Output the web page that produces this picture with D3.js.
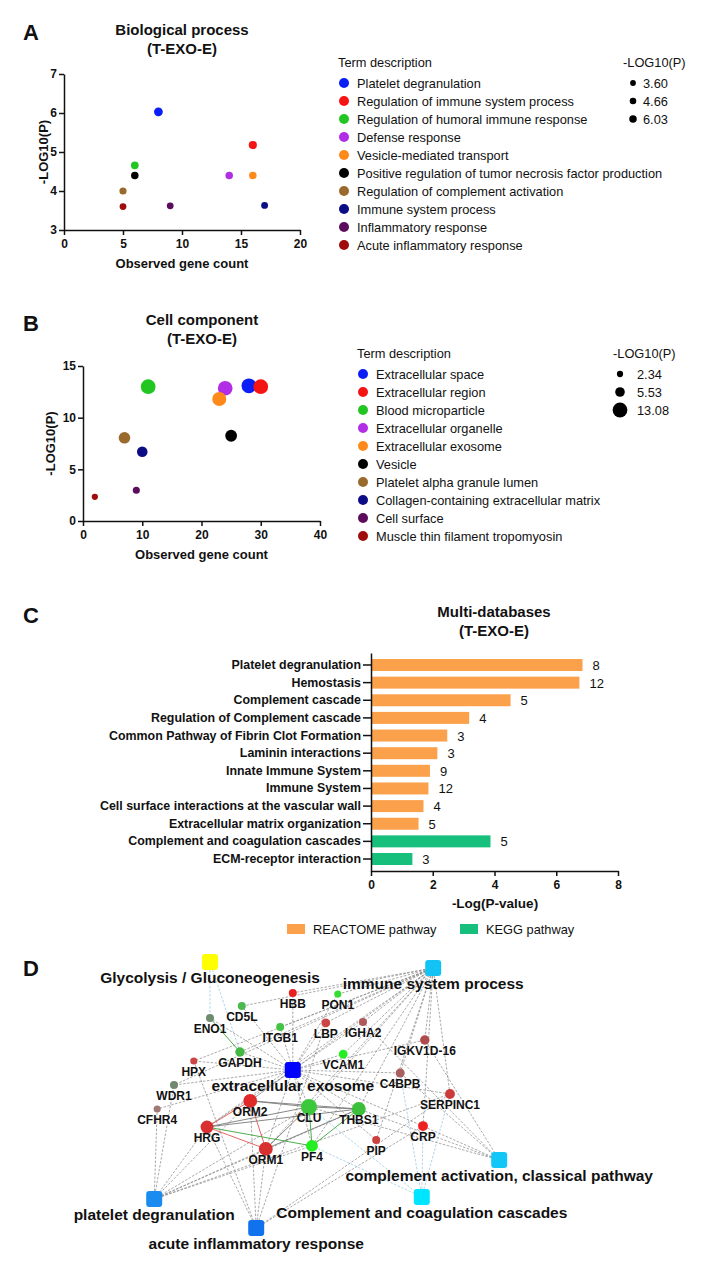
<!DOCTYPE html>
<html>
<head>
<meta charset="utf-8">
<script src="https://cdn.jsdelivr.net/npm/d3@7"></script>
<style>
  body { margin: 0; background: #fff; }
  svg text { font-family: "Liberation Sans", Arial, sans-serif; fill: #111; }
</style>
</head>
<body>
<svg id="fig" width="715" height="1270"></svg>
<script>
// ---------- Panel A: biological process ----------
const bpTerms = ["Platelet degranulation", "Regulation of immune system process", "Regulation of humoral immune response",
  "Defense response", "Vesicle-mediated transport", "Positive regulation of tumor necrosis factor production",
  "Regulation of complement activation", "Immune system process", "Inflammatory response", "Acute inflammatory response"];
const bpCount = [8, 16, 6, 14, 16, 6, 5, 17, 9, 5];
const bpLogP = [6.03, 5.18, 4.66, 4.4, 4.4, 4.4, 4.0, 3.63, 3.62, 3.6];
const bpSizeTicks = [3.60, 4.66, 6.03];

// ---------- Panel B: cell component ----------
const ccTerms = ["Extracellular space", "Extracellular region", "Blood microparticle", "Extracellular organelle",
  "Extracellular exosome", "Vesicle", "Platelet alpha granule lumen", "Collagen-containing extracellular matrix",
  "Cell surface", "Muscle thin filament tropomyosin"];
const ccCount = [28, 30, 11, 24, 23, 25, 7, 10, 9, 2];
const ccLogP = [13.08, 13.0, 13.0, 12.85, 11.8, 8.25, 8.05, 6.7, 2.97, 2.34];
const ccSizeTicks = [2.34, 5.53, 13.08];

// ---------- Panel C: multi-databases ----------
const pathTerms = ["Platelet degranulation", "Hemostasis", "Complement cascade", "Regulation of Complement cascade",
  "Common Pathway of Fibrin Clot Formation", "Laminin interactions", "Innate Immune System", "Immune System",
  "Cell surface interactions at the vascular wall", "Extracellular matrix organization",
  "Complement and coagulation cascades", "ECM-receptor interaction"];
const pathLogP = [6.85, 6.75, 4.52, 3.18, 2.47, 2.15, 1.91, 1.86, 1.70, 1.54, 3.87, 1.34];
const pathGenes = [8, 12, 5, 4, 3, 3, 9, 12, 4, 5, 5, 3];
const pathSource = ["REACTOME pathway", "REACTOME pathway", "REACTOME pathway", "REACTOME pathway", "REACTOME pathway",
  "REACTOME pathway", "REACTOME pathway", "REACTOME pathway", "REACTOME pathway", "REACTOME pathway",
  "KEGG pathway", "KEGG pathway"];
const sourceNames = ["REACTOME pathway", "KEGG pathway"];

// ---------- Panel D: network ----------
const termNames = ["Glycolysis / Gluconeogenesis", "immune system process", "extracellular exosome",
  "platelet degranulation", "acute inflammatory response", "Complement and coagulation cascades",
  "complement activation, classical pathway"];
const geneNames = ["HBB", "PON1", "CD5L", "ENO1", "ITGB1", "LBP", "IGHA2", "IGKV1D-16", "GAPDH", "VCAM1", "HPX",
  "C4BPB", "WDR1", "SERPINC1", "ORM2", "CLU", "THBS1", "CFHR4", "HRG", "CRP", "PIP", "ORM1", "PF4"];
const geneDegree = [2.5, 2, 2.5, 2.5, 2.5, 3, 2.5, 3.5, 3.5, 3, 2, 3.2, 2.5, 3.8, 7.5, 10, 7.5, 2, 6.5, 3.8, 2.5, 7.5, 5.5];
const termGenes = [
  ["ENO1", "GAPDH"],
  ["HBB", "PON1", "CD5L", "ITGB1", "LBP", "IGHA2", "IGKV1D-16", "VCAM1", "GAPDH", "HPX", "C4BPB", "SERPINC1", "CRP",
   "ORM2", "ORM1", "HRG", "CLU", "PF4", "THBS1", "PIP", "WDR1"],
  ["HBB", "PON1", "CD5L", "ENO1", "ITGB1", "LBP", "IGHA2", "GAPDH", "VCAM1", "HPX", "C4BPB", "WDR1", "ORM2", "CLU",
   "THBS1", "CFHR4", "HRG", "ORM1", "PF4", "PIP", "CRP", "SERPINC1", "IGKV1D-16"],
  ["WDR1", "CFHR4", "HRG", "ORM2", "ORM1", "CLU", "THBS1", "PF4", "SERPINC1"],
  ["HPX", "ORM1", "ORM2", "HRG", "CRP", "SERPINC1", "LBP"],
  ["SERPINC1", "C4BPB", "CLU", "PF4", "CRP"],
  ["IGHA2", "IGKV1D-16", "C4BPB", "CRP", "CLU", "THBS1"]
];
const ppiLinks = [["ENO1", "GAPDH"], ["ORM2", "HRG"], ["HRG", "ORM1"], ["ORM2", "ORM1"], ["CLU", "PF4"],
  ["THBS1", "PF4"], ["CLU", "THBS1"], ["ORM2", "CLU"], ["ORM2", "THBS1"], ["HRG", "CLU"], ["HRG", "THBS1"],
  ["ORM1", "CLU"], ["ORM1", "THBS1"], ["HRG", "PF4"]];

// layout (normalised 0..1, mapped through scales below)
const netLayout = {
  "Glycolysis / Gluconeogenesis": [0.25, 0.04], "immune system process": [0.622, 0.06],
  "extracellular exosome": [0.388, 0.40], "platelet degranulation": [0.157, 0.83],
  "acute inflammatory response": [0.327, 0.927], "Complement and coagulation cascades": [0.603, 0.823],
  "complement activation, classical pathway": [0.732, 0.70],
  HBB: [0.388, 0.143], PON1: [0.463, 0.147], CD5L: [0.303, 0.187], ENO1: [0.25, 0.227], ITGB1: [0.367, 0.257],
  LBP: [0.443, 0.243], IGHA2: [0.505, 0.24], "IGKV1D-16": [0.608, 0.30], GAPDH: [0.30, 0.34], VCAM1: [0.472, 0.347],
  HPX: [0.223, 0.37], C4BPB: [0.567, 0.41], WDR1: [0.19, 0.45], SERPINC1: [0.65, 0.48], ORM2: [0.317, 0.503],
  CLU: [0.415, 0.523], THBS1: [0.498, 0.53], CFHR4: [0.162, 0.53], HRG: [0.245, 0.59], CRP: [0.605, 0.587],
  PIP: [0.527, 0.633], ORM1: [0.343, 0.663], PF4: [0.42, 0.653]
};

// colours
const termColors = ["#0a1ef5", "#f51414", "#22c622", "#b12ee6", "#ff8a1c", "#000000", "#9a6a2c", "#0c0c84", "#5c0c5c", "#a00c0c"];
const sourceColors = {"REACTOME pathway": "#fba14c", "KEGG pathway": "#16bf7c"};
const netTermColors = {"Glycolysis / Gluconeogenesis": "#ffff00", "immune system process": "#14c3f5",
  "extracellular exosome": "#0000ff", "platelet degranulation": "#1a8cf0", "acute inflammatory response": "#1172ee",
  "Complement and coagulation cascades": "#00e5ff", "complement activation, classical pathway": "#12c6f5"};
const geneColors = {HBB: "#e82020", PON1: "#33dd33", CD5L: "#4db84d", ENO1: "#6e8b6e", ITGB1: "#44c444",
  LBP: "#cc4444", IGHA2: "#b05a5a", "IGKV1D-16": "#b04b4b", GAPDH: "#44b844", VCAM1: "#22ee22", HPX: "#cc4444",
  C4BPB: "#a86060", WDR1: "#708870", SERPINC1: "#cc3a3a", ORM2: "#e02a2a", CLU: "#3cc83c", THBS1: "#3cc03c",
  CFHR4: "#a07878", HRG: "#d83030", CRP: "#ee2020", PIP: "#cc4040", ORM1: "#d83030", PF4: "#22ee22"};

const svg = d3.select("#fig");
svg.append("rect").attr("width", 715).attr("height", 1270).attr("fill", "#fff");

function panel_letter(txt, x, y) {
  svg.append("text").attr("x", x).attr("y", y).attr("font-size", 22).attr("font-weight", "bold").text(txt);
}

function style_axis(ax, fontSize) {
  ax.select(".domain").attr("stroke", "#111").attr("stroke-width", 1.5);
  ax.selectAll(".tick line").attr("stroke", "#111").attr("stroke-width", 1.5);
  ax.selectAll(".tick text").attr("font-size", fontSize).attr("font-weight", "bold")
    .attr("font-family", "Liberation Sans, Arial, sans-serif").attr("fill", "#111");
}

function draw_title(lines, x, y) {
  lines.forEach(function (t, i) {
    svg.append("text").attr("x", x).attr("y", y + i * 18.5).attr("text-anchor", "middle")
      .attr("font-size", 15).attr("font-weight", "bold").text(t);
  });
}

function draw_bubble_chart(o) {
  var g = svg.append("g");
  var x = d3.scaleLinear().domain(o.xDomain).range([o.left, o.right]);
  var y = d3.scaleLinear().domain(o.yDomain).range([o.bottom, o.top]);
  var r = d3.scaleSqrt().domain([0, d3.max(o.logp)]).range([0, o.rMax]);

  draw_title([o.title, "(T-EXO-E)"], o.titleX, o.titleY);

  var xa = g.append("g").attr("transform", "translate(0," + o.bottom + ")")
    .call(d3.axisBottom(x).tickValues(o.xTicks).tickFormat(d3.format("d"))
      .tickSize(5).tickSizeOuter(0).tickPadding(4));
  var ya = g.append("g").attr("transform", "translate(" + o.left + ",0)")
    .call(d3.axisLeft(y).tickValues(o.yTicks).tickFormat(d3.format("d"))
      .tickSize(5).tickSizeOuter(0).tickPadding(2));
  style_axis(xa, 12);
  style_axis(ya, 12);

  g.append("text").attr("x", (o.left + o.right) / 2).attr("y", o.bottom + 38).attr("text-anchor", "middle")
    .attr("font-size", 13).attr("font-weight", "bold").text("Observed gene count");
  g.append("text").attr("transform", "translate(" + o.yLabelX + "," + (o.top + o.bottom) / 2 + ") rotate(-90)")
    .attr("text-anchor", "middle").attr("font-size", 13).attr("font-weight", "bold").text("-LOG10(P)");

  g.selectAll("circle.pt").data(d3.range(o.terms.length)).join("circle")
    .attr("class", "pt")
    .attr("cx", function (i) { return x(o.counts[i]); })
    .attr("cy", function (i) { return y(o.logp[i]); })
    .attr("r", function (i) { return r(o.logp[i]); })
    .attr("fill", function (i) { return termColors[i]; });

  // term legend
  g.append("text").attr("x", o.legX).attr("y", o.rowY - 16).attr("font-size", 12.8).text("Term description");
  var rows = g.selectAll("g.row").data(o.terms).join("g").attr("class", "row")
    .attr("transform", function (d, i) { return "translate(" + o.legX + "," + (o.rowY + i * 18) + ")"; });
  rows.append("circle").attr("cx", 6).attr("cy", 0).attr("r", 5)
    .attr("fill", function (d, i) { return termColors[i]; });
  rows.append("text").attr("x", 19).attr("y", 4.5).attr("font-size", 12.8).text(function (d) { return d; });

  // size legend
  g.append("text").attr("x", o.sizeHeadX).attr("y", o.rowY - 16).attr("font-size", 12.8).text("-LOG10(P)");
  var srows = g.selectAll("g.srow").data(o.sizeTicks).join("g").attr("class", "srow")
    .attr("transform", function (d, i) { return "translate(" + o.sizeX + "," + (o.rowY + i * 18) + ")"; });
  srows.append("circle").attr("r", function (d) { return r(d) * o.legScale; }).attr("fill", "#000");
  srows.append("text").attr("x", o.sizeLabelDx).attr("y", 4.5).attr("font-size", 12.8)
    .text(function (d) { return d.toFixed(2); });
}

function draw_bar_chart() {
  var g = svg.append("g");
  var x = d3.scaleLinear().domain([0, 8]).range([371, 618]);
  var y = d3.scaleBand().domain(pathTerms).range([653, 871]).paddingInner(0.32).paddingOuter(0.34);

  draw_title(["Multi-databases", "(T-EXO-E)"], 494, 617);

  g.selectAll("rect.bar").data(pathTerms).join("rect").attr("class", "bar")
    .attr("x", x(0))
    .attr("y", function (d) { return y(d); })
    .attr("width", function (d, i) { return x(pathLogP[i]) - x(0); })
    .attr("height", y.bandwidth())
    .attr("fill", function (d, i) { return sourceColors[pathSource[i]]; });

  g.selectAll("text.cnt").data(pathTerms).join("text").attr("class", "cnt")
    .attr("x", function (d, i) { return x(pathLogP[i]) + 10; })
    .attr("y", function (d) { return y(d) + y.bandwidth() / 2 + 5; })
    .attr("font-size", 13).text(function (d, i) { return pathGenes[i]; });

  var ya = g.append("g").attr("transform", "translate(371,0)")
    .call(d3.axisLeft(y).tickSize(8).tickSizeOuter(0).tickPadding(2));
  style_axis(ya, 12.4);
  var xa = g.append("g").attr("transform", "translate(0,871)")
    .call(d3.axisBottom(x).tickValues([0, 2, 4, 6, 8]).tickSize(5).tickSizeOuter(0).tickPadding(4));
  style_axis(xa, 12);

  g.append("text").attr("x", 495).attr("y", 908).attr("text-anchor", "middle")
    .attr("font-size", 13.5).attr("font-weight", "bold").text("-Log(P-value)");

  var leg = g.selectAll("g.leg").data(sourceNames).join("g").attr("class", "leg")
    .attr("transform", function (d, i) { return "translate(" + (287 + i * 173) + ",924)"; });
  leg.append("rect").attr("width", 18).attr("height", 10).attr("fill", function (d) { return sourceColors[d]; });
  leg.append("text").attr("x", 26).attr("y", 9.5).attr("font-size", 12.8).text(function (d) { return d; });
}

function draw_network() {
  var g = svg.append("g");
  var x = d3.scaleLinear().domain([0, 1]).range([60, 660]);
  var y = d3.scaleLinear().domain([0, 1]).range([950, 1250]);
  var r = d3.scaleSqrt().domain([0, 10]).range([0, 8]);
  var pos = function (n) { return [x(netLayout[n][0]), y(netLayout[n][1])]; };
  var redSet = ["ORM2", "HRG", "ORM1"];
  var greenSet = ["ENO1", "GAPDH", "PF4"];

  var termLinks = [];
  termGenes.forEach(function (genes, ti) {
    genes.forEach(function (gn) { termLinks.push({s: termNames[ti], t: gn, ti: ti}); });
  });

  g.selectAll("line.tl").data(termLinks).join("line").attr("class", "tl")
    .attr("x1", function (d) { return pos(d.s)[0]; }).attr("y1", function (d) { return pos(d.s)[1]; })
    .attr("x2", function (d) { return pos(d.t)[0]; }).attr("y2", function (d) { return pos(d.t)[1]; })
    .attr("stroke", function (d) { return (d.ti === 0 || d.ti === 5) ? "#8fc4dc" : "#858585"; })
    .attr("stroke-width", 0.7)
    .attr("stroke-dasharray", "2.5,1.5");

  g.selectAll("line.pl").data(ppiLinks).join("line").attr("class", "pl")
    .attr("x1", function (d) { return pos(d[0])[0]; }).attr("y1", function (d) { return pos(d[0])[1]; })
    .attr("x2", function (d) { return pos(d[1])[0]; }).attr("y2", function (d) { return pos(d[1])[1]; })
    .attr("stroke", function (d) {
      if (redSet.includes(d[0]) && redSet.includes(d[1])) return "#e05555";
      if (greenSet.includes(d[0]) || greenSet.includes(d[1])) return "#3aa53a";
      return "#7a7a7a";
    })
    .attr("stroke-width", 0.9);

  g.selectAll("circle.gene").data(geneNames).join("circle").attr("class", "gene")
    .attr("cx", function (d) { return pos(d)[0]; }).attr("cy", function (d) { return pos(d)[1]; })
    .attr("r", function (d, i) { return r(geneDegree[i]); })
    .attr("fill", function (d) { return geneColors[d]; });

  g.selectAll("rect.term").data(termNames).join("rect").attr("class", "term")
    .attr("x", function (d) { return pos(d)[0] - 8; }).attr("y", function (d) { return pos(d)[1] - 8; })
    .attr("width", 16).attr("height", 16).attr("rx", 3)
    .attr("fill", function (d) { return netTermColors[d]; });

  g.selectAll("text.gl").data(geneNames).join("text").attr("class", "gl")
    .attr("x", function (d) { return pos(d)[0]; }).attr("y", function (d) { return pos(d)[1] + 15; })
    .attr("text-anchor", "middle").attr("font-family", "Noto Sans, sans-serif")
    .attr("font-weight", "bold").attr("font-size", 12).text(function (d) { return d; });

  g.selectAll("text.tlab").data(termNames).join("text").attr("class", "tlab")
    .attr("x", function (d) { return pos(d)[0]; }).attr("y", function (d) { return pos(d)[1] + 21; })
    .attr("text-anchor", "middle").attr("font-weight", "bold").attr("font-size", 15.5)
    .text(function (d) { return d; });
}

panel_letter("A", 23, 40);
draw_bubble_chart({
  terms: bpTerms, counts: bpCount, logp: bpLogP, sizeTicks: bpSizeTicks, title: "Biological process",
  xDomain: [0, 20], xTicks: [0, 5, 10, 15, 20], yDomain: [3, 7], yTicks: [3, 4, 5, 6, 7],
  left: 64, right: 300, bottom: 230, top: 74, rMax: 4.4, titleX: 182, titleY: 35, yLabelX: 48,
  legX: 338, rowY: 83, sizeHeadX: 623, sizeX: 633, sizeLabelDx: 10, legScale: 0.85
});

panel_letter("B", 23, 331);
draw_bubble_chart({
  terms: ccTerms, counts: ccCount, logp: ccLogP, sizeTicks: ccSizeTicks, title: "Cell component",
  xDomain: [0, 40], xTicks: [0, 10, 20, 30, 40], yDomain: [0, 15], yTicks: [0, 5, 10, 15],
  left: 83, right: 320, bottom: 521, top: 366, rMax: 7.4, titleX: 202, titleY: 325, yLabelX: 55,
  legX: 357, rowY: 374, sizeHeadX: 613, sizeX: 620, sizeLabelDx: 17, legScale: 1
});

panel_letter("C", 23, 623);
draw_bar_chart();

panel_letter("D", 23, 976);
draw_network();
</script>
</body>
</html>
